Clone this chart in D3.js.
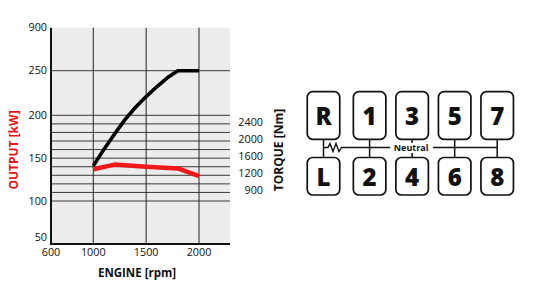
<!doctype html>
<html lang="en">
	<head>
		<meta charset="UTF-8">
		<title>Engine chart and shift pattern</title>
		<style>
			body { margin: 0; background: #fff; }
			svg { display: block; font-family: "Open Sans", sans-serif; }
			.tick-label { font-size: 10.8px; fill: #111; }
		</style>
	</head>
	<body>
		<svg id="chart" width="538" height="292"></svg>

		<script src="https://d3js.org/d3.v7.min.js"></script>
		<script>

			// Data
			var rpmTicks = [600, 1000, 1500, 2000];
			var rpmGrid = [1000, 1500, 2000];
			var outputTicks = [50, 100, 150, 200, 250, 900];
			var outputGrid = [100, 110, 120, 130, 140, 150, 160, 170, 180, 190, 200, 250];
			var torqueTicks = [900, 1200, 1600, 2000, 2400];
			var torqueOnOutput = [110, 130, 150, 170, 190]; // where each torque label sits on the kW axis

			// red curve: output
			var outputRpm = [1000, 1200, 1500, 1800, 2000];
			var outputKw = [137, 142.5, 140, 138, 129];

			// black curve (drawn against the left axis)
			var blackRpm = [1000, 1100, 1200, 1300, 1400, 1500, 1600, 1700, 1800, 2000];
			var blackVal = [141, 160, 178, 195, 209, 221, 232, 242, 250, 250];

			// shift pattern
			var upperGears = ["R", "1", "3", "5", "7"];
			var lowerGears = ["L", "2", "4", "6", "8"];

			var svg = d3.select("#chart");

			// Scales (the left axis is broken, so it is piecewise)
			var x = d3.scaleLinear().domain([600, 2000]).range([51, 199]);
			var y = d3.scaleLinear()
				.domain([50, 100, 200, 250, 900])
				.range([237, 201, 115.3, 70.7, 27.7]);
			var torque = d3.scaleLinear().domain(torqueTicks).range(torqueOnOutput);

			var plotL = 51, plotR = 230, plotT = 27.7, plotB = 244;

			// plot background
			svg.append("rect")
				.attr("x", plotL).attr("y", plotT)
				.attr("width", plotR - plotL).attr("height", plotB - plotT)
				.attr("fill", "#ececec");

			// grid
			svg.selectAll(".hgrid")
				.data(outputGrid)
				.enter()
				.append("line")
				.attr("class", "hgrid")
				.attr("x1", plotL).attr("x2", plotR)
				.attr("y1", function(d) { return y(d); })
				.attr("y2", function(d) { return y(d); })
				.attr("stroke", "#3a3a3a")
				.attr("stroke-width", 1);

			svg.selectAll(".vgrid")
				.data(rpmGrid)
				.enter()
				.append("line")
				.attr("class", "vgrid")
				.attr("x1", function(d) { return x(d); })
				.attr("x2", function(d) { return x(d); })
				.attr("y1", plotT).attr("y2", plotB)
				.attr("stroke", "#222")
				.attr("stroke-width", 1);

			// axis lines
			svg.append("path")
				.attr("d", "M" + plotL + "," + plotT + "V" + plotB + "H" + plotR)
				.attr("fill", "none")
				.attr("stroke", "#111")
				.attr("stroke-width", 2);

			// curves
			var line = d3.line()
				.x(function(d) { return x(d[0]); })
				.y(function(d) { return y(d[1]); });

			svg.append("path")
				.datum(d3.zip(blackRpm, blackVal))
				.attr("d", line)
				.attr("fill", "none")
				.attr("stroke", "#000")
				.attr("stroke-width", 3.6)
				.attr("stroke-linejoin", "round");

			svg.append("path")
				.datum(d3.zip(outputRpm, outputKw))
				.attr("d", line)
				.attr("fill", "none")
				.attr("stroke", "#f01818")
				.attr("stroke-width", 4.5)
				.attr("stroke-linejoin", "round");

			// tick labels
			svg.selectAll(".ylab")
				.data(outputTicks)
				.enter()
				.append("text")
				.attr("class", "tick-label")
				.attr("x", 47)
				.attr("y", function(d) { return y(d); })
				.attr("dy", "0.35em")
				.attr("text-anchor", "end")
				.text(function(d) { return d; });

			svg.selectAll(".xlab")
				.data(rpmTicks)
				.enter()
				.append("text")
				.attr("class", "tick-label")
				.attr("x", function(d) { return x(d); })
				.attr("y", 256)
				.attr("text-anchor", "middle")
				.text(function(d) { return d; });

			svg.selectAll(".tlab")
				.data(torqueTicks)
				.enter()
				.append("text")
				.attr("class", "tick-label")
				.attr("x", 263)
				.attr("y", function(d) { return y(torque(d)) - 2; })
				.attr("dy", "0.35em")
				.attr("text-anchor", "end")
				.text(function(d) { return d; });

			// axis titles
			svg.append("text")
				.attr("x", 137).attr("y", 277)
				.attr("text-anchor", "middle")
				.attr("font-size", 11.5)
				.attr("font-weight", "bold")
				.attr("fill", "#111")
				.text("ENGINE [rpm]");

			svg.append("text")
				.attr("transform", "translate(18,150) rotate(-90)")
				.attr("text-anchor", "middle")
				.attr("font-size", 12)
				.attr("font-weight", "bold")
				.attr("fill", "#e8141b")
				.text("OUTPUT [kW]");

			svg.append("text")
				.attr("transform", "translate(283,150) rotate(-90)")
				.attr("text-anchor", "middle")
				.attr("font-size", 12)
				.attr("font-weight", "bold")
				.attr("fill", "#111")
				.text("TORQUE [Nm]");

			// Shift pattern
			var col = d3.scaleLinear().domain([0, 1, 4]).range([323.5, 369.6, 497.2]);
			var boxW = 32.5, radius = 5.5;
			var upTop = 91.7, upBottom = 139.3, lowTop = 157.5, lowBottom = 195;
			var neutralY = 147.5;
			var g = svg.append("g");

			// connectors
			g.selectAll(".conn")
				.data(upperGears)
				.enter()
				.append("line")
				.attr("x1", function(d, i) { return col(i); })
				.attr("x2", function(d, i) { return col(i); })
				.attr("y1", upBottom).attr("y2", lowTop)
				.attr("stroke", "#111")
				.attr("stroke-width", 1.5);

			// neutral rail with a small spring after reverse
			var sx = col(0) + 4.5;
			var rail = d3.path();
			rail.moveTo(col(0), neutralY);
			rail.lineTo(sx, neutralY);
			rail.lineTo(sx + 2, neutralY - 4);
			rail.lineTo(sx + 5, neutralY + 4);
			rail.lineTo(sx + 8, neutralY - 4);
			rail.lineTo(sx + 11, neutralY + 4);
			rail.lineTo(sx + 13.5, neutralY);
			rail.lineTo(col(4), neutralY);
			g.append("path")
				.attr("d", rail.toString())
				.attr("fill", "none")
				.attr("stroke", "#111")
				.attr("stroke-width", 1.4);

			// boxes
			function drawRow(gears, yTop, yBottom, cls) {
				g.selectAll("." + cls)
					.data(gears)
					.enter()
					.append("rect")
					.attr("class", cls)
					.attr("x", function(d, i) { return col(i) - boxW / 2; })
					.attr("y", yTop)
					.attr("width", boxW)
					.attr("height", yBottom - yTop)
					.attr("rx", radius)
					.attr("fill", "#fff")
					.attr("stroke", "#111")
					.attr("stroke-width", 1.7);

				g.selectAll("." + cls + "-t")
					.data(gears)
					.enter()
					.append("text")
					.attr("class", cls + "-t")
					.attr("x", function(d, i) { return col(i); })
					.attr("y", (yTop + yBottom) / 2 + 1)
					.attr("dy", "0.36em")
					.attr("text-anchor", "middle")
					.attr("font-size", 24)
					.attr("font-weight", 800)
					.attr("fill", "#111")
					.text(function(d) { return d; });
			}
			drawRow(upperGears, upTop, upBottom, "up");
			drawRow(lowerGears, lowTop, lowBottom, "low");

			// Neutral label
			g.append("rect")
				.attr("x", col(2) - 22).attr("y", neutralY - 4.5)
				.attr("width", 43).attr("height", 10)
				.attr("fill", "#fff");
			g.append("text")
				.attr("x", col(2) - 1).attr("y", neutralY)
				.attr("dy", "0.35em")
				.attr("text-anchor", "middle")
				.attr("font-size", 9)
				.attr("font-weight", "bold")
				.attr("fill", "#111")
				.text("Neutral");

		</script>
	</body>
</html>
